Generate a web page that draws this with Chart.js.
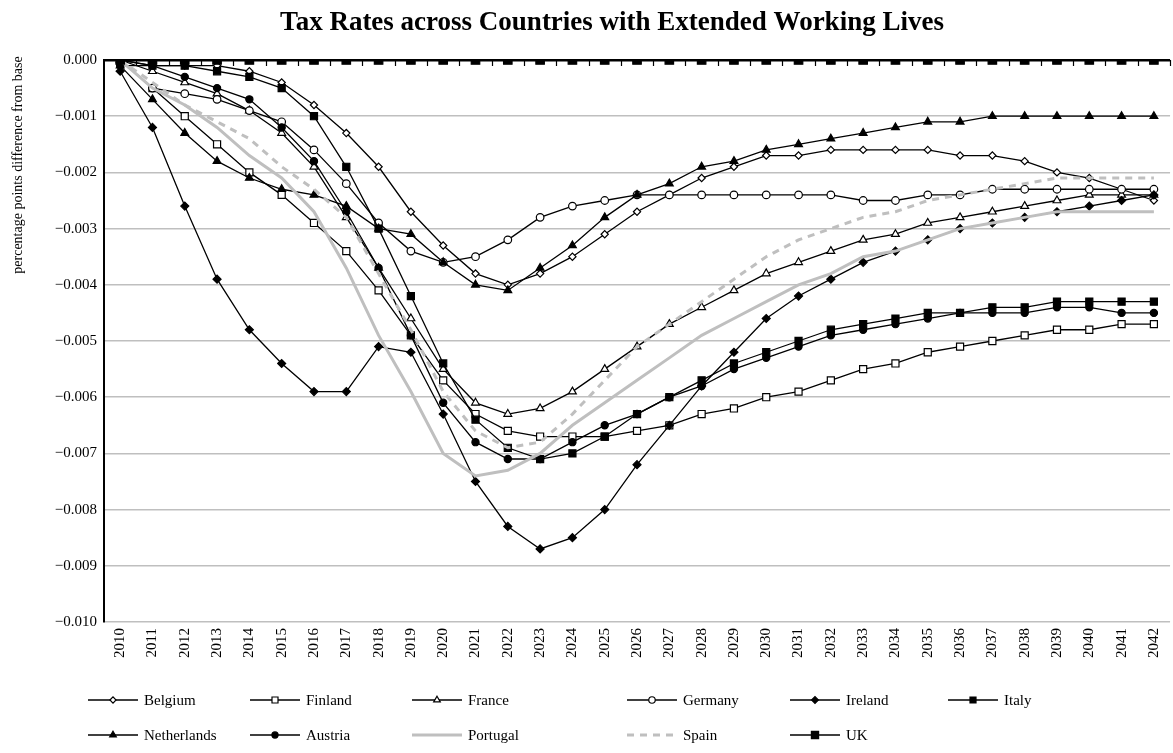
<!DOCTYPE html>
<html>
<head>
<meta charset="utf-8">
<script src="https://cdn.jsdelivr.net/npm/chart.js@4.4.0/dist/chart.umd.min.js"></script>
<style>
html, body { margin: 0; padding: 0; background: #fff; overflow: hidden; }
</style>
</head>
<body>
<canvas id="chart" width="1178" height="753"></canvas>
<script>
var years = ['2010','2011','2012','2013','2014','2015','2016','2017','2018','2019','2020',
  '2021','2022','2023','2024','2025','2026','2027','2028','2029','2030','2031','2032',
  '2033','2034','2035','2036','2037','2038','2039','2040','2041','2042'];

var belgium = [0,-0.0001,-0.0001,-0.0001,-0.0002,-0.0004,-0.0008,-0.0013,-0.0019,-0.0027,-0.0033,
  -0.0038,-0.0040,-0.0038,-0.0035,-0.0031,-0.0027,-0.0024,-0.0021,-0.0019,-0.0017,-0.0017,-0.0016,
  -0.0016,-0.0016,-0.0016,-0.0017,-0.0017,-0.0018,-0.0020,-0.0021,-0.0023,-0.0025];
var finland = [0,-0.0005,-0.0010,-0.0015,-0.0020,-0.0024,-0.0029,-0.0034,-0.0041,-0.0049,-0.0057,
  -0.0063,-0.0066,-0.0067,-0.0067,-0.0067,-0.0066,-0.0065,-0.0063,-0.0062,-0.0060,-0.0059,-0.0057,
  -0.0055,-0.0054,-0.0052,-0.0051,-0.0050,-0.0049,-0.0048,-0.0048,-0.0047,-0.0047];
var france = [0,-0.0002,-0.0004,-0.0006,-0.0009,-0.0013,-0.0019,-0.0028,-0.0037,-0.0046,-0.0055,
  -0.0061,-0.0063,-0.0062,-0.0059,-0.0055,-0.0051,-0.0047,-0.0044,-0.0041,-0.0038,-0.0036,-0.0034,
  -0.0032,-0.0031,-0.0029,-0.0028,-0.0027,-0.0026,-0.0025,-0.0024,-0.0024,-0.0024];
var germany = [0,-0.0005,-0.0006,-0.0007,-0.0009,-0.0011,-0.0016,-0.0022,-0.0029,-0.0034,-0.0036,
  -0.0035,-0.0032,-0.0028,-0.0026,-0.0025,-0.0024,-0.0024,-0.0024,-0.0024,-0.0024,-0.0024,-0.0024,
  -0.0025,-0.0025,-0.0024,-0.0024,-0.0023,-0.0023,-0.0023,-0.0023,-0.0023,-0.0023];
var ireland = [-0.0002,-0.0012,-0.0026,-0.0039,-0.0048,-0.0054,-0.0059,-0.0059,-0.0051,-0.0052,-0.0063,
  -0.0075,-0.0083,-0.0087,-0.0085,-0.0080,-0.0072,-0.0065,-0.0058,-0.0052,-0.0046,-0.0042,-0.0039,
  -0.0036,-0.0034,-0.0032,-0.0030,-0.0029,-0.0028,-0.0027,-0.0026,-0.0025,-0.0024];
var italy = [0,-0.0001,-0.0001,-0.0002,-0.0003,-0.0005,-0.0010,-0.0019,-0.0030,-0.0042,-0.0054,
  -0.0064,-0.0069,-0.0071,-0.0070,-0.0067,-0.0063,-0.0060,-0.0057,-0.0054,-0.0052,-0.0050,-0.0048,
  -0.0047,-0.0046,-0.0045,-0.0045,-0.0044,-0.0044,-0.0043,-0.0043,-0.0043,-0.0043];
var netherlands = [-0.0001,-0.0007,-0.0013,-0.0018,-0.0021,-0.0023,-0.0024,-0.0026,-0.0030,-0.0031,-0.0036,
  -0.0040,-0.0041,-0.0037,-0.0033,-0.0028,-0.0024,-0.0022,-0.0019,-0.0018,-0.0016,-0.0015,-0.0014,
  -0.0013,-0.0012,-0.0011,-0.0011,-0.0010,-0.0010,-0.0010,-0.0010,-0.0010,-0.0010];
var austria = [-0.0001,-0.0001,-0.0003,-0.0005,-0.0007,-0.0012,-0.0018,-0.0027,-0.0037,-0.0049,-0.0061,
  -0.0068,-0.0071,-0.0071,-0.0068,-0.0065,-0.0063,-0.0060,-0.0058,-0.0055,-0.0053,-0.0051,-0.0049,
  -0.0048,-0.0047,-0.0046,-0.0045,-0.0045,-0.0045,-0.0044,-0.0044,-0.0045,-0.0045];
var portugal = [0,-0.0005,-0.0008,-0.0012,-0.0017,-0.0021,-0.0027,-0.0037,-0.0049,-0.0059,-0.0070,
  -0.0074,-0.0073,-0.0070,-0.0065,-0.0061,-0.0057,-0.0053,-0.0049,-0.0046,-0.0043,-0.0040,-0.0038,
  -0.0035,-0.0034,-0.0032,-0.0030,-0.0029,-0.0028,-0.0027,-0.0027,-0.0027,-0.0027];
var spain = [0,-0.0004,-0.0008,-0.0011,-0.0014,-0.0019,-0.0023,-0.0028,-0.0038,-0.0048,-0.0059,
  -0.0066,-0.0069,-0.0068,-0.0063,-0.0057,-0.0051,-0.0047,-0.0043,-0.0039,-0.0035,-0.0032,-0.0030,
  -0.0028,-0.0027,-0.0025,-0.0024,-0.0023,-0.0022,-0.0021,-0.0021,-0.0021,-0.0021];
var uk = [0,0,0,0,0,0,0,0,0,0,0,0,0,0,0,0,0,0,0,0,0,0,0,0,0,0,0,0,0,0,0,0,0];

var yTicks = ['0.000','\u22120.001','\u22120.002','\u22120.003','\u22120.004','\u22120.005',
  '\u22120.006','\u22120.007','\u22120.008','\u22120.009','\u22120.010'];

var SERIF = '"Liberation Serif", "Times New Roman", serif';
var GRAY = '#BFBFBF';

function blackLine(label, data, style, radius, filled) {
  return {
    label: label, data: data,
    borderColor: '#000', borderWidth: 1.3,
    pointStyle: style, pointRadius: radius, pointHoverRadius: radius,
    pointBorderColor: '#000', pointBorderWidth: 1.2,
    pointBackgroundColor: filled ? '#000' : '#fff'
  };
}
function grayLine(label, data, dash) {
  return {
    label: label, data: data,
    borderColor: GRAY, borderWidth: 3, borderDash: dash,
    pointRadius: 0, pointHoverRadius: 0, pointStyle: 'line'
  };
}

var datasets = [
  blackLine('Belgium', belgium, 'rectRot', 3.6, false),
  blackLine('Finland', finland, 'rect', 5, false),
  blackLine('France', france, 'triangle', 4.5, false),
  blackLine('Germany', germany, 'circle', 3.8, false),
  blackLine('Ireland', ireland, 'rectRot', 4, true),
  blackLine('Italy', italy, 'rect', 5, true),
  blackLine('Netherlands', netherlands, 'triangle', 4.5, true),
  blackLine('Austria', austria, 'circle', 3.6, true),
  grayLine('Portugal', portugal, []),
  grayLine('Spain', spain, [7, 6]),
  blackLine('UK', uk, 'rect', 6, true)
];
// later series are drawn on top, as in the original
datasets.forEach(function (d, i) { d.order = datasets.length - i; d.tension = 0; d.fill = false; });

var decor = {
  id: 'decor',
  afterDraw: function (chart) {
    var ctx = chart.ctx;
    var area = chart.chartArea;
    var ys = chart.scales.y;
    ctx.save();

    // title
    ctx.fillStyle = '#000';
    ctx.font = 'bold 27px ' + SERIF;
    ctx.textAlign = 'center';
    ctx.textBaseline = 'middle';
    ctx.fillText('Tax Rates across Countries with Extended Working Lives', 612, 23);

    // y axis title
    ctx.save();
    ctx.translate(18, 165);
    ctx.rotate(-Math.PI / 2);
    ctx.font = '14px ' + SERIF;
    ctx.fillText('percentage points difference from base', 0, 0);
    ctx.restore();

    // category tick marks along the zero axis
    var y0 = ys.getPixelForValue(0);
    var band = (area.right - area.left) / years.length;
    ctx.strokeStyle = '#000';
    ctx.lineWidth = 1.2;
    for (var k = 1; k <= years.length; k++) {
      var tx = Math.round(area.left + k * band) + 0.5;
      ctx.beginPath();
      ctx.moveTo(tx, y0);
      ctx.lineTo(tx, y0 + 6);
      ctx.stroke();
    }

    // legend in two rows
    var cols = [88, 250, 412, 627, 790, 948];
    var rows = [700, 735];
    ctx.font = '15px ' + SERIF;
    ctx.textAlign = 'left';
    chart.data.datasets.forEach(function (d, i) {
      var lx = cols[i < 6 ? i : i - 6];
      var ly = rows[i < 6 ? 0 : 1];
      ctx.save();
      ctx.strokeStyle = d.borderColor;
      ctx.lineWidth = d.borderWidth;
      ctx.setLineDash(d.borderDash || []);
      ctx.beginPath();
      ctx.moveTo(lx, ly);
      ctx.lineTo(lx + 50, ly);
      ctx.stroke();
      ctx.setLineDash([]);
      if (d.pointRadius > 0) {
        ctx.fillStyle = d.pointBackgroundColor;
        ctx.strokeStyle = d.pointBorderColor;
        ctx.lineWidth = d.pointBorderWidth;
        Chart.helpers.drawPoint(ctx, {
          pointStyle: d.pointStyle, radius: d.pointRadius * 0.85,
          rotation: 0, borderWidth: d.pointBorderWidth
        }, lx + 25, ly);
      }
      ctx.restore();
      ctx.fillStyle = '#000';
      ctx.textBaseline = 'middle';
      ctx.fillText(d.label, lx + 56, ly + 1);
    });
    ctx.restore();
  }
};

new Chart(document.getElementById('chart'), {
  type: 'line',
  data: { labels: years, datasets: datasets },
  plugins: [decor],
  options: {
    responsive: false,
    animation: false,
    layout: { padding: { top: 60, left: 0, right: 0, bottom: 81 } },
    plugins: {
      legend: { display: false },
      title: { display: false },
      tooltip: { enabled: false }
    },
    scales: {
      x: {
        type: 'category',
        offset: true,
        grid: { display: false, drawTicks: false },
        border: { display: false },
        ticks: {
          color: '#000', font: { family: SERIF, size: 15 },
          minRotation: 90, maxRotation: 90, autoSkip: false, padding: 6
        },
        afterFit: function (s) { s.height = 50; }
      },
      y: {
        min: -0.010, max: 0,
        grid: {
          color: function (c) { return c.tick && c.tick.value === 0 ? '#000' : GRAY; },
          lineWidth: function (c) { return c.tick && c.tick.value === 0 ? 2.5 : 1.5; },
          drawTicks: false
        },
        border: { display: true, color: '#000', width: 2 },
        ticks: {
          stepSize: 0.001, color: '#000', padding: 7,
          font: { family: SERIF, size: 15 },
          callback: function (v, i) { return yTicks[yTicks.length - 1 - i]; }
        },
        afterFit: function (s) { s.width = 104; }
      }
    }
  }
});
</script>
</body>
</html>
